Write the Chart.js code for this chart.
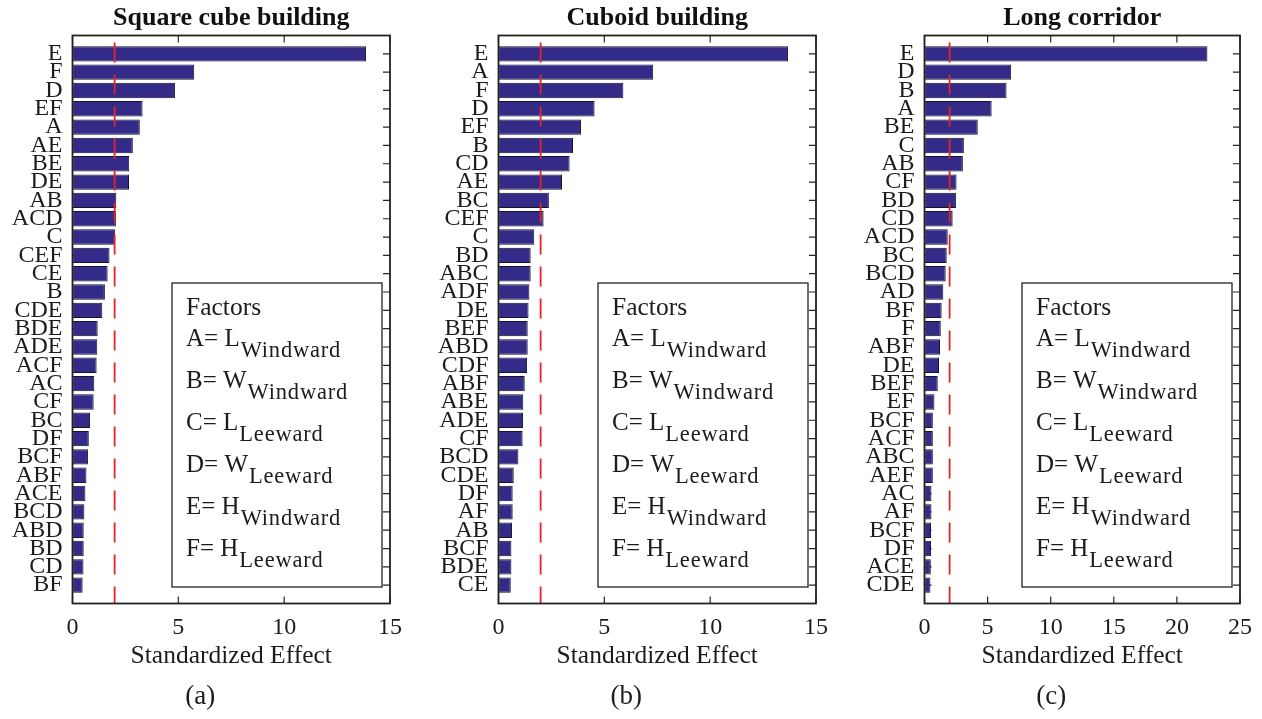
<!DOCTYPE html>
<html>
<head>
<meta charset="utf-8">
<script src="https://cdn.jsdelivr.net/npm/chart.js@4.4.0/dist/chart.umd.min.js"></script>
<style>
  body { margin: 0; background: #fff; }
  #wrap { position: relative; width: 1262px; height: 719px; overflow: hidden; }
  #wrap canvas { position: absolute; top: 0; }
</style>
</head>
<body>
<div id="wrap">
  <canvas id="chartA" width="412" height="719"></canvas>
  <canvas id="chartB" width="412" height="719"></canvas>
  <canvas id="chartC" width="410" height="719"></canvas>
</div>
<script>
// Pareto charts of standardized effects, one per building layout
const factorsA = ['E', 'F', 'D', 'EF', 'A', 'AE', 'BE', 'DE', 'AB', 'ACD', 'C', 'CEF', 'CE', 'B', 'CDE',
  'BDE', 'ADE', 'ACF', 'AC', 'CF', 'BC', 'DF', 'BCF', 'ABF', 'ACE', 'BCD', 'ABD', 'BD', 'CD', 'BF'];
const effectsA = [13.87, 5.75, 4.84, 3.31, 3.18, 2.85, 2.68, 2.67, 2.07, 2.05, 2.02, 1.75, 1.66, 1.53, 1.41,
  1.19, 1.17, 1.14, 1.03, 1.00, 0.83, 0.77, 0.73, 0.66, 0.61, 0.56, 0.53, 0.53, 0.52, 0.48];

const factorsB = ['E', 'A', 'F', 'D', 'EF', 'B', 'CD', 'AE', 'BC', 'CEF', 'C', 'BD', 'ABC', 'ADF', 'DE',
  'BEF', 'ABD', 'CDF', 'ABF', 'ABE', 'ADE', 'CF', 'BCD', 'CDE', 'DF', 'AF', 'AB', 'BCF', 'BDE', 'CE'];
const effectsB = [13.68, 7.31, 5.90, 4.54, 3.90, 3.52, 3.36, 3.00, 2.38, 2.13, 1.69, 1.52, 1.52, 1.46, 1.42,
  1.38, 1.38, 1.35, 1.24, 1.17, 1.16, 1.14, 0.94, 0.72, 0.67, 0.67, 0.64, 0.61, 0.61, 0.58];

const factorsC = ['E', 'D', 'B', 'A', 'BE', 'C', 'AB', 'CF', 'BD', 'CD', 'ACD', 'BC', 'BCD', 'AD', 'BF',
  'F', 'ABF', 'DE', 'BEF', 'EF', 'BCF', 'ACF', 'ABC', 'AEF', 'AC', 'AF', 'BCF', 'DF', 'ACE', 'CDE'];
const effectsC = [22.42, 6.87, 6.50, 5.32, 4.22, 3.12, 3.04, 2.54, 2.49, 2.23, 1.84, 1.76, 1.68, 1.49, 1.36,
  1.29, 1.23, 1.15, 1.05, 0.79, 0.66, 0.66, 0.66, 0.66, 0.55, 0.55, 0.52, 0.52, 0.50, 0.47];

// significance threshold (t critical) for each chart
const criticalT = [1.99, 1.99, 1.99];
const xMax = [15, 15, 25];
const xStep = 5;

const titles = ['Square cube building', 'Cuboid building', 'Long corridor'];
const captions = ['(a)', '(b)', '(c)'];
const axisTitle = 'Standardized Effect';

// factor key
const keyHeading = 'Factors';
const keyLetters = ['A', 'B', 'C', 'D', 'E', 'F'];
const keySymbols = ['L', 'W', 'L', 'W', 'H', 'H'];
const keySubs = ['Windward', 'Windward', 'Leeward', 'Leeward', 'Windward', 'Leeward'];

const SERIF = "'Liberation Serif', 'Times New Roman', serif";
const INK = '#1c1c1c';

const paretoFrame = {
  id: 'paretoFrame',
  beforeDatasetsDraw(chart) {
    const { ctx, chartArea: a, scales: { x, y } } = chart;
    const labels = y.getLabels();
    ctx.save();
    ctx.strokeStyle = '#262626';
    ctx.lineWidth = 1.2;
    ctx.beginPath();
    labels.forEach((lab, i) => {
      if (!lab) return;
      const py = y.getPixelForTick(i);
      ctx.moveTo(a.left, py); ctx.lineTo(a.left + 7, py);
      ctx.moveTo(a.right, py); ctx.lineTo(a.right - 7, py);
    });
    x.ticks.forEach(t => {
      const px = x.getPixelForValue(t.value);
      ctx.moveTo(px, a.top); ctx.lineTo(px, a.top + 7);
      ctx.moveTo(px, a.bottom); ctx.lineTo(px, a.bottom - 7);
    });
    ctx.stroke();
    ctx.restore();
  },
  afterDatasetsDraw(chart, args, opts) {
    const { ctx, chartArea: a, scales: { x } } = chart;
    ctx.save();

    // dashed threshold line
    const px = x.getPixelForValue(opts.critical);
    ctx.strokeStyle = '#e3242b';
    ctx.lineWidth = 1.8;
    ctx.setLineDash([20, 12]);
    ctx.beginPath();
    ctx.moveTo(px, a.top + 7);
    ctx.lineTo(px, a.bottom);
    ctx.stroke();
    ctx.setLineDash([]);

    // axes box
    ctx.strokeStyle = '#222';
    ctx.lineWidth = 1.8;
    ctx.strokeRect(a.left, a.top, a.right - a.left, a.bottom - a.top);

    // factor key
    const right = a.right - 8, bottom = a.bottom - 16.5;
    const left = right - 210, top = bottom - 304;
    ctx.fillStyle = '#fff';
    ctx.fillRect(left, top, right - left, bottom - top);
    ctx.strokeStyle = '#222';
    ctx.lineWidth = 1.3;
    ctx.strokeRect(left, top, right - left, bottom - top);

    const tx = left + 14;
    ctx.fillStyle = INK;
    ctx.textAlign = 'left';
    ctx.textBaseline = 'alphabetic';
    ctx.font = '25.5px ' + SERIF;
    ctx.fillText(keyHeading, tx, top + 32);
    keyLetters.forEach((letter, i) => {
      const base = top + 63 + i * 42;
      const main = letter + '= ' + keySymbols[i];
      ctx.font = '25px ' + SERIF;
      ctx.letterSpacing = '0px';
      ctx.fillText(main, tx, base);
      const w = ctx.measureText(main).width;
      ctx.font = '22.5px ' + SERIF;
      ctx.letterSpacing = '0.8px';
      ctx.fillText(keySubs[i], tx + w + 1, base + 11);
    });
    ctx.letterSpacing = '0px';
    ctx.restore();
  },
  afterDraw(chart, args, opts) {
    const { ctx, chartArea: a } = chart;
    ctx.save();
    ctx.fillStyle = INK;
    ctx.font = '27px ' + SERIF;
    ctx.textAlign = 'center';
    ctx.textBaseline = 'middle';
    ctx.fillText(opts.caption, (a.left + a.right) / 2 - 31, 697);
    ctx.restore();
  }
};

const panels = [
  { id: 'chartA', left: 0, pad: 20.5, factors: factorsA, effects: effectsA },
  { id: 'chartB', left: 425.8, pad: 20.5, factors: factorsB, effects: effectsB },
  { id: 'chartC', left: 851.5, pad: 20.5, factors: factorsC, effects: effectsC }
];

panels.forEach((p, k) => {
  const canvas = document.getElementById(p.id);
  canvas.style.left = p.left + 'px';

  // blank slots above and below keep a full bar gap to the axes box
  const labels = [''].concat(p.factors, ['']);
  const values = [null].concat(p.effects, [null]);

  new Chart(canvas.getContext('2d'), {
    type: 'bar',
    data: {
      labels: labels,
      datasets: [{
        data: values,
        backgroundColor: '#332b87',
        borderColor: '#15132e',
        borderWidth: 1,
        borderSkipped: false,
        categoryPercentage: 1,
        barPercentage: 0.84
      }]
    },
    options: {
      indexAxis: 'y',
      responsive: false,
      animation: false,
      layout: { padding: { left: 0, right: p.pad, top: 0, bottom: 35 } },
      scales: {
        y: {
          type: 'category',
          offset: false,
          grid: { display: false, drawTicks: false },
          border: { display: false },
          ticks: {
            autoSkip: false,
            padding: 10,
            color: INK,
            font: { family: SERIF, size: 24 }
          },
          afterFit: s => { s.width = 72.5; }
        },
        x: {
          min: 0,
          max: xMax[k],
          grid: { display: false, drawTicks: false },
          border: { display: false },
          ticks: {
            stepSize: xStep,
            padding: 10,
            color: INK,
            font: { family: SERIF, size: 24 }
          },
          title: {
            display: true,
            text: axisTitle,
            color: INK,
            font: { family: SERIF, size: 25.5 },
            padding: { top: 0, bottom: 12 }
          },
          afterFit: s => { s.height = 80.5; }
        }
      },
      plugins: {
        legend: { display: false },
        tooltip: { enabled: false },
        title: {
          display: true,
          text: titles[k],
          fullSize: false,
          color: '#111',
          font: { family: SERIF, size: 26, weight: 'bold' },
          padding: { top: 3, bottom: 1.3 }
        },
        paretoFrame: { critical: criticalT[k], caption: captions[k] }
      }
    },
    plugins: [paretoFrame]
  });
});
</script>
</body>
</html>
